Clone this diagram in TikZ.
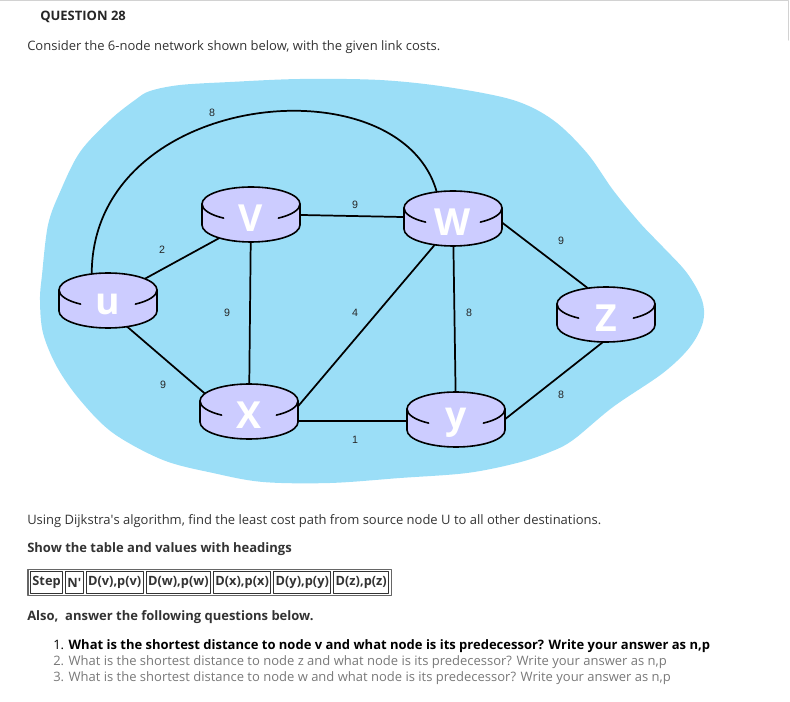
\documentclass[tikz,border=0pt]{standalone}
\usepackage{fontspec}
\setmainfont{Open Sans}
\newfontfamily\costfont{Liberation Sans}
\usetikzlibrary{positioning,shapes.geometric,fit}

\definecolor{cloudblue}{RGB}{155,222,247}
\definecolor{routerfill}{RGB}{204,204,255}
\definecolor{textgray}{RGB}{51,51,51}
\definecolor{itemgray}{RGB}{120,120,120}
\definecolor{framegray}{RGB}{210,210,210}

\pgfdeclarelayer{back}
\pgfdeclarelayer{links}
\pgfsetlayers{back,links,main}

\tikzset{
  router/.style={ellipse, minimum width=73.5pt, minimum height=41pt, inner sep=0pt},
  routerlbl/.style={text=white, font=\bfseries\fontsize{28}{28}\selectfont, inner sep=0pt},
  cost/.style={font=\costfont\fontsize{8}{9}\selectfont, text=black!85, inner sep=0pt},
  link/.style={line width=1.3pt},
  txt/.style={anchor=base west, inner sep=0pt, font=\fontsize{9.75}{11}\selectfont, text=textgray},
  boldtxt/.style={txt, font=\bfseries\fontsize{9.75}{11}\selectfont},
  cell/.style={draw=black!80, line width=0.6pt, font=\bfseries\fontsize{9.6}{11}\selectfont,
    text=textgray, inner xsep=1.5pt, inner ysep=0pt, minimum height=16pt},
}

% router: name, x, y, letter
\newcommand{\router}[4]{%
  \begin{scope}[shift={(#2,#3)}]
    \filldraw[fill=routerfill, draw=black, line width=1.2pt]
      (-49,10) -- (-49,-11) arc[start angle=180, end angle=360, x radius=49, y radius=17]
      -- (49,10) arc[start angle=0, end angle=180, x radius=49, y radius=17] -- cycle;
    \draw[line width=1.2pt] (-49,10) arc[start angle=180, end angle=236, x radius=49, y radius=17];
    \draw[line width=1.2pt] (49,10) arc[start angle=0, end angle=-56, x radius=49, y radius=17];
  \end{scope}
  \node[router] (#1) at (#2,#3) {};
  \node[routerlbl] (#1-lbl) at (#2,#3-4) {#4};
}

\begin{document}
\begin{tikzpicture}[line cap=round,line join=round,x=0.75pt,y=0.75pt]
\useasboundingbox (0,0) rectangle (790,-702);
\draw[framegray, line width=1pt] (0,-0.7) -- (788.5,-0.7) -- (788.5,-40);

\node[boldtxt, text=black!85] (title) at (40,-21) {QUESTION 28};
\node[txt] (intro) at (27,-51) {Consider the 6-node network shown below, with the given link costs.};

% the cloud
\begin{pgfonlayer}{back}
\fill[cloudblue] plot[smooth cycle, tension=0.55] coordinates {
  (150,-91) (180,-85) (230,-82) (300,-79) (380,-80) (447,-87) (513,-100) (553,-120)
  (587,-153) (613,-190) (640,-223) (663,-247) (687,-273) (702,-300) (703,-322)
  (690,-347) (663,-373) (613,-407) (573,-440) (550,-452) (517,-463) (467,-473)
  (400,-478) (330,-483) (263,-482) (213,-473) (163,-460) (113,-433) (80,-400)
  (57,-367) (43,-333) (40,-300) (42,-275) (48,-225) (60,-192) (80,-152) (110,-120) (135,-100)};
\end{pgfonlayer}

\router{u}{108}{-300}{u}
\router{v}{251}{-214}{V}
\router{w}{453}{-218}{W}
\router{x}{249}{-411}{X}
\router{y}{456}{-419}{y}
\router{z}{606}{-314}{Z}

\begin{pgfonlayer}{links}
\draw[link] (u.122) .. controls (92,-90) and (400,-60) .. (w.122);
\draw[link] (u.30) -- (v.218);
\draw[link] (u.-55) -- (x.160);
\draw[link] (v) -- (w);
\draw[link] (v) -- (x);
\draw[link] (x.5) -- (w.236);
\draw[link] (x.-12) -- (x.-12 -| y.west);
\draw[link] (w) -- (y);
\draw[link] (w.-5) -- (z.125);
\draw[link] (z.265) -- (y.east);
\end{pgfonlayer}

\node[cost] (c-uw) at (212,-113) {8};
\node[cost] (c-uv) at (162,-250) {2};
\node[cost] (c-ux) at (163,-385) {9};
\node[cost] (c-vw) at (355,-205) {9};
\node[cost] (c-vx) at (227,-313) {9};
\node[cost] (c-xw) at (355,-313) {4};
\node[cost] (c-xy) at (355,-440) {1};
\node[cost] (c-wy) at (469,-313) {8};
\node[cost] (c-wz) at (561,-241) {9};
\node[cost] (c-zy) at (561,-395) {8};

\node[txt] (task) at (27,-525) {Using Dijkstra\textquotesingle s algorithm, find the least cost path from source node U to all other destinations.};
\node[boldtxt] (show) at (27,-553) {Show the table and values with headings};

% table of headings
\node[cell, anchor=west] (step) at (30,-582.5) {Step};
\node[cell, right=1.5pt of step] (nprime) {N\textquotesingle};
\node[cell, right=1.5pt of nprime] (dv) {D(v),p(v)};
\node[cell, right=1.5pt of dv] (dw) {D(w),p(w)};
\node[cell, right=1.5pt of dw] (dx) {D(x),p(x)};
\node[cell, right=1.5pt of dx] (dy) {D(y),p(y)};
\node[cell, right=1.5pt of dy] (dz) {D(z),p(z)};
\node[draw=black!60, line width=0.8pt, fit=(step)(dz), inner sep=1.5pt] (tbl) {};

\node[boldtxt] (also) at (27,-620) {Also,\ \ answer the following questions below.};
\node[txt, text=black] (q1) at (53,-649) {1. \textbf{What is the shortest distance to node v and what node is its predecessor? Write your answer as n,p}};
\node[txt, text=itemgray] (q2) at (53,-665) {2. What is the shortest distance to node z and what node is its predecessor? Write your answer as n,p};
\node[txt, text=itemgray] (q3) at (53,-681) {3. What is the shortest distance to node w and what node is its predecessor? Write your answer as n,p};
\end{tikzpicture}
\end{document}
